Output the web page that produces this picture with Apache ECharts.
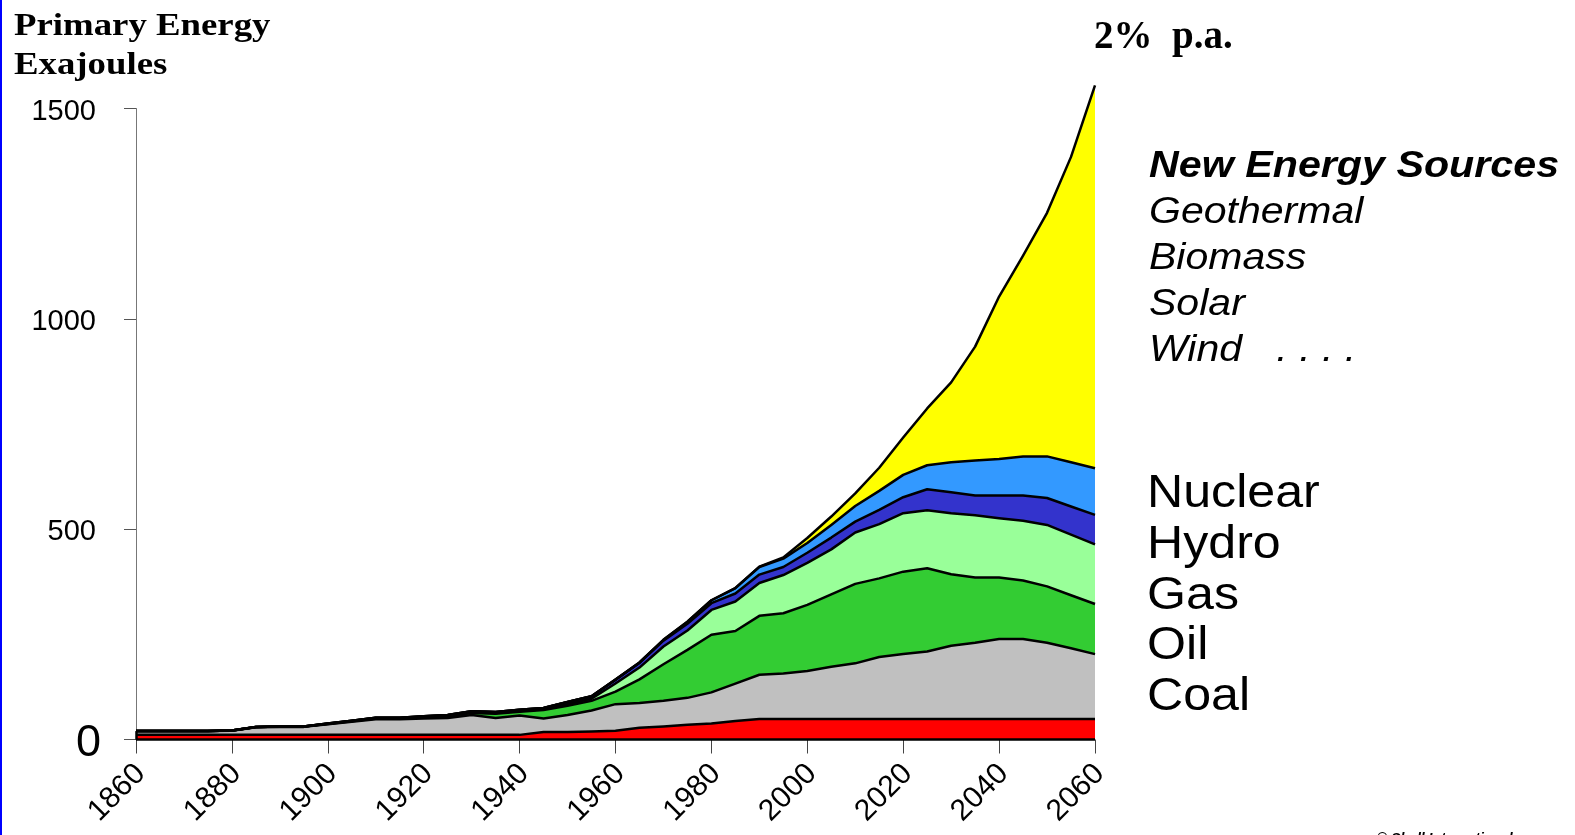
<!DOCTYPE html>
<html>
<head>
<meta charset="utf-8">
<script src="https://cdn.jsdelivr.net/npm/echarts@6/dist/echarts.min.js"></script>
<style>
  html, body { margin: 0; padding: 0; background: #ffffff; }
  #chart { width: 1575px; height: 835px; }
</style>
</head>
<body>
<div id="chart"></div>
<script>
// World primary energy by source, exajoules, 5-year steps 1860-2060
const years = ['1860', '1865', '1870', '1875', '1880', '1885', '1890', '1895', '1900', '1905',
               '1910', '1915', '1920', '1925', '1930', '1935', '1940', '1945', '1950', '1955',
               '1960', '1965', '1970', '1975', '1980', '1985', '1990', '1995', '2000', '2005',
               '2010', '2015', '2020', '2025', '2030', '2035', '2040', '2045', '2050', '2055', '2060'];

const traditional = [11, 11, 11, 11, 11, 11, 11, 11, 11, 11,
                     11, 11, 11, 11, 11, 11, 11, 18, 18, 19,
                     21, 28, 31, 35, 38, 44, 49, 49, 49, 49,
                     49, 49, 49, 49, 49, 49, 49, 49, 49, 49, 49];

const coal = [9, 9, 9, 9, 10, 18, 19, 19, 25, 31,
              37, 37, 39, 40, 47, 40, 46, 32, 40, 50,
              63, 59, 61, 64, 74, 89, 105, 108, 114, 124,
              132, 147, 154, 160, 174, 181, 190, 190, 181, 168, 154];

const oil = [0, 0, 0, 0, 0.5, 0.5, 1, 1, 1, 1.5,
             2, 2, 3, 4, 5, 10, 9, 20, 22, 23,
             30, 56, 87, 114, 137, 125, 140, 143, 157, 172,
             189, 187, 196, 198, 170, 155, 146, 139, 134, 126, 119];

const gas = [0, 0, 0, 0, 0, 0, 0, 0, 0.5, 0.5,
             1, 1, 1, 1.5, 2, 2, 2, 2, 4, 5,
             19, 28, 42, 46, 59, 70, 78, 91, 100, 107,
             122, 129, 139, 138, 145, 148, 141, 142, 146, 144, 142];

const hydro = [0, 0, 0, 0, 0, 0, 0, 0, 0.5, 0.5,
               1, 1, 1.5, 2, 2, 2.5, 3, 3, 5, 6,
               9, 11, 14, 16, 16, 19, 20, 19, 24, 28,
               26, 34, 38, 50, 50, 47, 54, 60, 64, 67, 70];

const nuclear = [0, 0, 0, 0, 0, 0, 0, 0, 0, 0,
                 0, 0, 0, 0, 0, 0, 0, 0, 0, 0,
                 0.3, 1, 2, 5, 7, 13, 18, 20, 23, 30,
                 37, 45, 53, 57, 71, 83, 87, 93, 99, 105, 111];

const newSources = [0, 0, 0, 0, 0, 0, 0, 0, 0, 0,
                    0, 0, 0, 0, 0, 0, 0, 0, 0, 0,
                    0, 0, 0, 0, 0, 0, 1, 3, 12, 20,
                    30, 55, 89, 135, 190, 271, 386, 477, 579, 726, 910];

const yTicks = [0, 500, 1000, 1500];

const layers = [
  { name: 'Traditional', values: traditional, color: '#FF0000' },
  { name: 'Coal',        values: coal,        color: '#C0C0C0' },
  { name: 'Oil',         values: oil,         color: '#33CC33' },
  { name: 'Gas',         values: gas,         color: '#99FF99' },
  { name: 'Hydro',       values: hydro,       color: '#3333CC' },
  { name: 'Nuclear',     values: nuclear,     color: '#3399FF' },
  { name: 'New Energy Sources', values: newSources, color: '#FFFF00' }
];

const totalAt = i => layers.reduce((s, l) => s + l.values[i], 0);
const firstYear = years[0];
const lastYear = years[years.length - 1];
const LABEL_STEP = 4;   // a labelled tick every 20 years

const OUTLINE = 2.5;
const series = [];

// filled bands
layers.forEach(l => {
  series.push({
    name: l.name,
    type: 'line',
    stack: 'fill',
    data: l.values,
    symbol: 'none',
    clip: false,
    z: 2,
    lineStyle: { width: 0 },
    areaStyle: { color: l.color, opacity: 1 },
    silent: true
  });
});

// black boundaries drawn above every band
layers.forEach((l, k) => {
  const s = {
    name: l.name + ' edge',
    type: 'line',
    stack: 'edge',
    data: l.values,
    symbol: 'none',
    clip: false,
    z: 4,
    lineStyle: { color: '#000000', width: OUTLINE, join: 'round' },
    silent: true
  };
  if (k === layers.length - 1) {
    s.markLine = {
      silent: true,
      symbol: ['none', 'none'],
      label: { show: false },
      lineStyle: { color: '#000000', width: OUTLINE, type: 'solid' },
      data: [
        [{ coord: [firstYear, 0] }, { coord: [firstYear, totalAt(0)] }],
        [{ coord: [lastYear, 0] }, { coord: [lastYear, totalAt(years.length - 1)] }],
        [{ coord: [firstYear, 0] }, { coord: [lastYear, 0] }]
      ]
    };
  }
  series.push(s);
});

const SANS = '"Liberation Sans", Arial, Helvetica, sans-serif';
const SERIF = '"Liberation Serif", "Times New Roman", serif';

function label(text, x, y, size, opts) {
  opts = opts || {};
  return {
    type: 'text',
    x: x, y: y,
    scaleX: opts.scaleX || 1,
    silent: true,
    z: 10,
    style: {
      text: text,
      fill: '#000000',
      fontSize: size,
      fontFamily: opts.family || SANS,
      fontWeight: opts.weight || 'normal',
      fontStyle: opts.style || 'normal',
      verticalAlign: opts.vAlign || 'middle',
      align: 'left'
    }
  };
}

const graphics = [
  { type: 'rect', shape: { x: 0, y: 0, width: 2, height: 835 }, style: { fill: '#0000FF' }, silent: true },
  label('Primary Energy', 14, 27, 32, { family: SERIF, weight: 'bold', scaleX: 1.15 }),
  label('Exajoules', 14, 66, 32, { family: SERIF, weight: 'bold', scaleX: 1.15 }),
  label('2%  p.a.', 1094, 38, 39, { family: SERIF, weight: 'bold' }),
  label('New Energy Sources', 1149, 167, 36, { weight: 'bold', style: 'italic', scaleX: 1.145 }),
  label('Geothermal', 1149, 213, 36, { style: 'italic', scaleX: 1.14 }),
  label('Biomass', 1149, 259, 36, { style: 'italic', scaleX: 1.14 }),
  label('Solar', 1149, 305, 36, { style: 'italic', scaleX: 1.14 }),
  label('Wind   . . . .', 1149, 351, 36, { style: 'italic', scaleX: 1.14 }),
  label('Nuclear', 1147, 494, 46, { scaleX: 1.09 }),
  label('Hydro', 1147, 545, 46, { scaleX: 1.09 }),
  label('Gas', 1147, 596, 46, { scaleX: 1.09 }),
  label('Oil', 1147, 646, 46, { scaleX: 1.09 }),
  label('Coal', 1147, 697, 46, { scaleX: 1.09 }),
  label('\u00A9 Shell International', 1377, 832, 14, { weight: 'bold', style: 'italic', vAlign: 'top' })
];

const chart = echarts.init(document.getElementById('chart'), null, { renderer: 'canvas' });
chart.setOption({
  animation: false,
  backgroundColor: '#ffffff',
  grid: { left: 136, right: 480, top: 108.5, bottom: 95.5, containLabel: false },
  xAxis: {
    type: 'category',
    data: years,
    boundaryGap: false,
    axisLine: { show: false },
    axisTick: {
      show: true, length: 14, interval: LABEL_STEP - 1,
      lineStyle: { color: '#444444', width: 1 }
    },
    splitLine: { show: false },
    axisLabel: {
      interval: LABEL_STEP - 1,
      rotate: 45,
      margin: 25,
      color: '#000000',
      formatter: v => '{yr|' + v + '}',
      rich: {
        yr: { fontSize: 30, fontFamily: SANS, color: '#000000', padding: [13, 0, 0, 0] }
      }
    }
  },
  yAxis: {
    type: 'value',
    min: yTicks[0],
    max: yTicks[yTicks.length - 1],
    interval: yTicks[1] - yTicks[0],
    axisLine: { show: true, lineStyle: { color: '#777777', width: 1 } },
    axisTick: { show: true, length: 12, lineStyle: { color: '#555555', width: 1 } },
    splitLine: { show: false },
    axisLabel: {
      margin: 35,
      color: '#000000',
      formatter: v => (v === 0 ? '{zero|0}' : '{n|' + v + '}'),
      rich: {
        n: { fontSize: 29, fontFamily: SANS, color: '#000000', padding: [6, 5, 0, 0] },
        zero: { fontSize: 45, fontFamily: SANS, color: '#000000', padding: [8, 0, 0, 0] }
      }
    }
  },
  series: series,
  graphic: graphics
});
</script>
</body>
</html>
